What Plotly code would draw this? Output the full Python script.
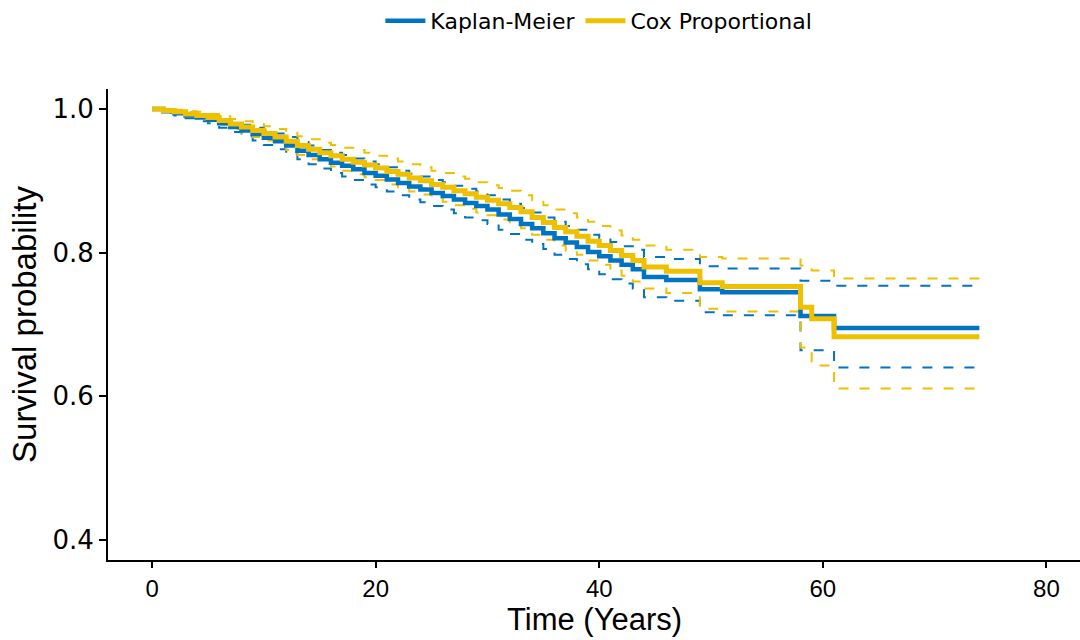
import plotly.graph_objects as go

time = [0, 1, 2, 3, 4, 5, 6, 7, 8, 9, 10, 11, 12, 13, 14, 15, 16, 17, 18, 19,
        20, 21, 22, 23, 24, 25, 26, 27, 28, 29, 30, 31, 32, 33, 34, 35, 36, 37,
        38, 39, 40, 41, 42, 43, 44, 46, 49, 51, 58, 59, 61, 74]

km = [1.000, 0.997, 0.994, 0.991, 0.988, 0.985, 0.980, 0.975, 0.970, 0.965,
      0.960, 0.955, 0.949, 0.942, 0.936, 0.930, 0.925, 0.921, 0.916, 0.911,
      0.907, 0.902, 0.897, 0.892, 0.888, 0.883, 0.879, 0.874, 0.869, 0.865,
      0.860, 0.853, 0.847, 0.840, 0.834, 0.827, 0.820, 0.814, 0.808, 0.801,
      0.795, 0.789, 0.783, 0.777, 0.766, 0.762, 0.749, 0.745, 0.712, 0.712,
      0.695, 0.695]
km_lower = [1.000, 0.995, 0.991, 0.987, 0.983, 0.980, 0.974, 0.968, 0.962, 0.956,
            0.950, 0.944, 0.937, 0.930, 0.923, 0.917, 0.911, 0.906, 0.901, 0.895,
            0.891, 0.885, 0.880, 0.874, 0.870, 0.865, 0.860, 0.855, 0.849, 0.845,
            0.840, 0.832, 0.826, 0.818, 0.812, 0.805, 0.797, 0.791, 0.784, 0.777,
            0.770, 0.763, 0.757, 0.750, 0.738, 0.733, 0.717, 0.713, 0.664, 0.664,
            0.640, 0.640]
km_upper = [1.000, 0.999, 0.997, 0.995, 0.993, 0.991, 0.986, 0.982, 0.978, 0.974,
            0.970, 0.966, 0.961, 0.954, 0.949, 0.943, 0.939, 0.936, 0.931, 0.927,
            0.923, 0.919, 0.914, 0.910, 0.906, 0.901, 0.898, 0.893, 0.889, 0.885,
            0.880, 0.874, 0.868, 0.862, 0.856, 0.849, 0.843, 0.837, 0.832, 0.825,
            0.820, 0.815, 0.809, 0.804, 0.794, 0.791, 0.781, 0.778, 0.761, 0.761,
            0.754, 0.754]

cox = [1.000, 0.998, 0.996, 0.993, 0.991, 0.988, 0.984, 0.979, 0.975, 0.970,
       0.966, 0.961, 0.955, 0.949, 0.944, 0.939, 0.935, 0.930, 0.926, 0.922,
       0.918, 0.913, 0.909, 0.904, 0.900, 0.895, 0.891, 0.886, 0.882, 0.877,
       0.873, 0.868, 0.863, 0.857, 0.849, 0.842, 0.835, 0.829, 0.823, 0.816,
       0.810, 0.803, 0.796, 0.789, 0.780, 0.774, 0.758, 0.753, 0.724, 0.708,
       0.683, 0.683]
cox_lower = [1.000, 0.996, 0.993, 0.989, 0.986, 0.983, 0.978, 0.972, 0.967, 0.961,
             0.956, 0.950, 0.943, 0.936, 0.930, 0.925, 0.920, 0.914, 0.909, 0.905,
             0.901, 0.895, 0.891, 0.885, 0.881, 0.876, 0.871, 0.866, 0.861, 0.856,
             0.852, 0.846, 0.840, 0.834, 0.825, 0.818, 0.810, 0.803, 0.797, 0.789,
             0.783, 0.775, 0.768, 0.760, 0.750, 0.744, 0.722, 0.718, 0.668, 0.643,
             0.611, 0.611]
cox_upper = [1.000, 1.000, 0.999, 0.997, 0.996, 0.993, 0.990, 0.986, 0.983, 0.979,
             0.976, 0.972, 0.967, 0.962, 0.958, 0.953, 0.950, 0.946, 0.943, 0.939,
             0.935, 0.931, 0.927, 0.923, 0.919, 0.914, 0.911, 0.906, 0.903, 0.898,
             0.894, 0.890, 0.886, 0.880, 0.873, 0.866, 0.860, 0.855, 0.849, 0.843,
             0.837, 0.831, 0.824, 0.818, 0.810, 0.804, 0.794, 0.792, 0.782, 0.775,
             0.764, 0.764]

x_ticks = [0, 20, 40, 60, 80]
y_ticks = [0.4, 0.6, 0.8, 1.0]
y_tick_labels = ["0.4", "0.6", "0.8", "1.0"]

BLUE = "#0073C2"
YELLOW = "#EFC000"
DASH = "10px,11px"

fig = go.Figure()
for vals, col in [(km_lower, BLUE), (km_upper, BLUE), (cox_lower, YELLOW), (cox_upper, YELLOW)]:
    fig.add_trace(go.Scatter(x=time, y=vals, mode="lines", line=dict(color=col, width=2, dash=DASH, shape="hv"),
                             showlegend=False, hoverinfo="skip"))
fig.add_trace(go.Scatter(x=time, y=km, mode="lines", name="Kaplan-Meier",
                         line=dict(color=BLUE, width=4.5, shape="hv")))
fig.add_trace(go.Scatter(x=time, y=cox, mode="lines", name="Cox Proportional",
                         line=dict(color=YELLOW, width=5, shape="hv")))

fig.add_annotation(text="Time (Years)", xref="paper", yref="paper", x=0.5, y=-0.126,
                   xanchor="center", yanchor="middle", showarrow=False,
                   font=dict(size=31, family="Liberation Sans, Arial, sans-serif", color="black"))

fig.update_layout(
    width=1080, height=640,
    margin=dict(l=108, r=0, t=88, b=80),
    plot_bgcolor="white", paper_bgcolor="white",
    font=dict(family="Liberation Sans, Arial, sans-serif", color="black"),
    legend=dict(orientation="h", x=0.505, xanchor="center", y=1.144, yanchor="middle",
                font=dict(size=22, family="DejaVu Sans"), itemwidth=40, traceorder="normal"),
    xaxis=dict(range=[-3.94, 83.0], tickvals=x_ticks, showline=True, linecolor="black", linewidth=2,
               ticks="outside", ticklen=6, tickwidth=1.5, tickcolor="black", showgrid=False, zeroline=False,
               tickfont=dict(size=24, color="black")),
    yaxis=dict(range=[0.3722, 1.0278], tickvals=y_ticks, ticktext=y_tick_labels, showline=True, linecolor="black",
               linewidth=2, ticks="outside", ticklen=7, tickwidth=1.5, tickcolor="black", showgrid=False,
               zeroline=False, tickfont=dict(size=26, color="black", family="DejaVu Sans"),
               title=dict(text="Survival probability", font=dict(size=33), standoff=6)),
)

fig.write_html("out.html")
